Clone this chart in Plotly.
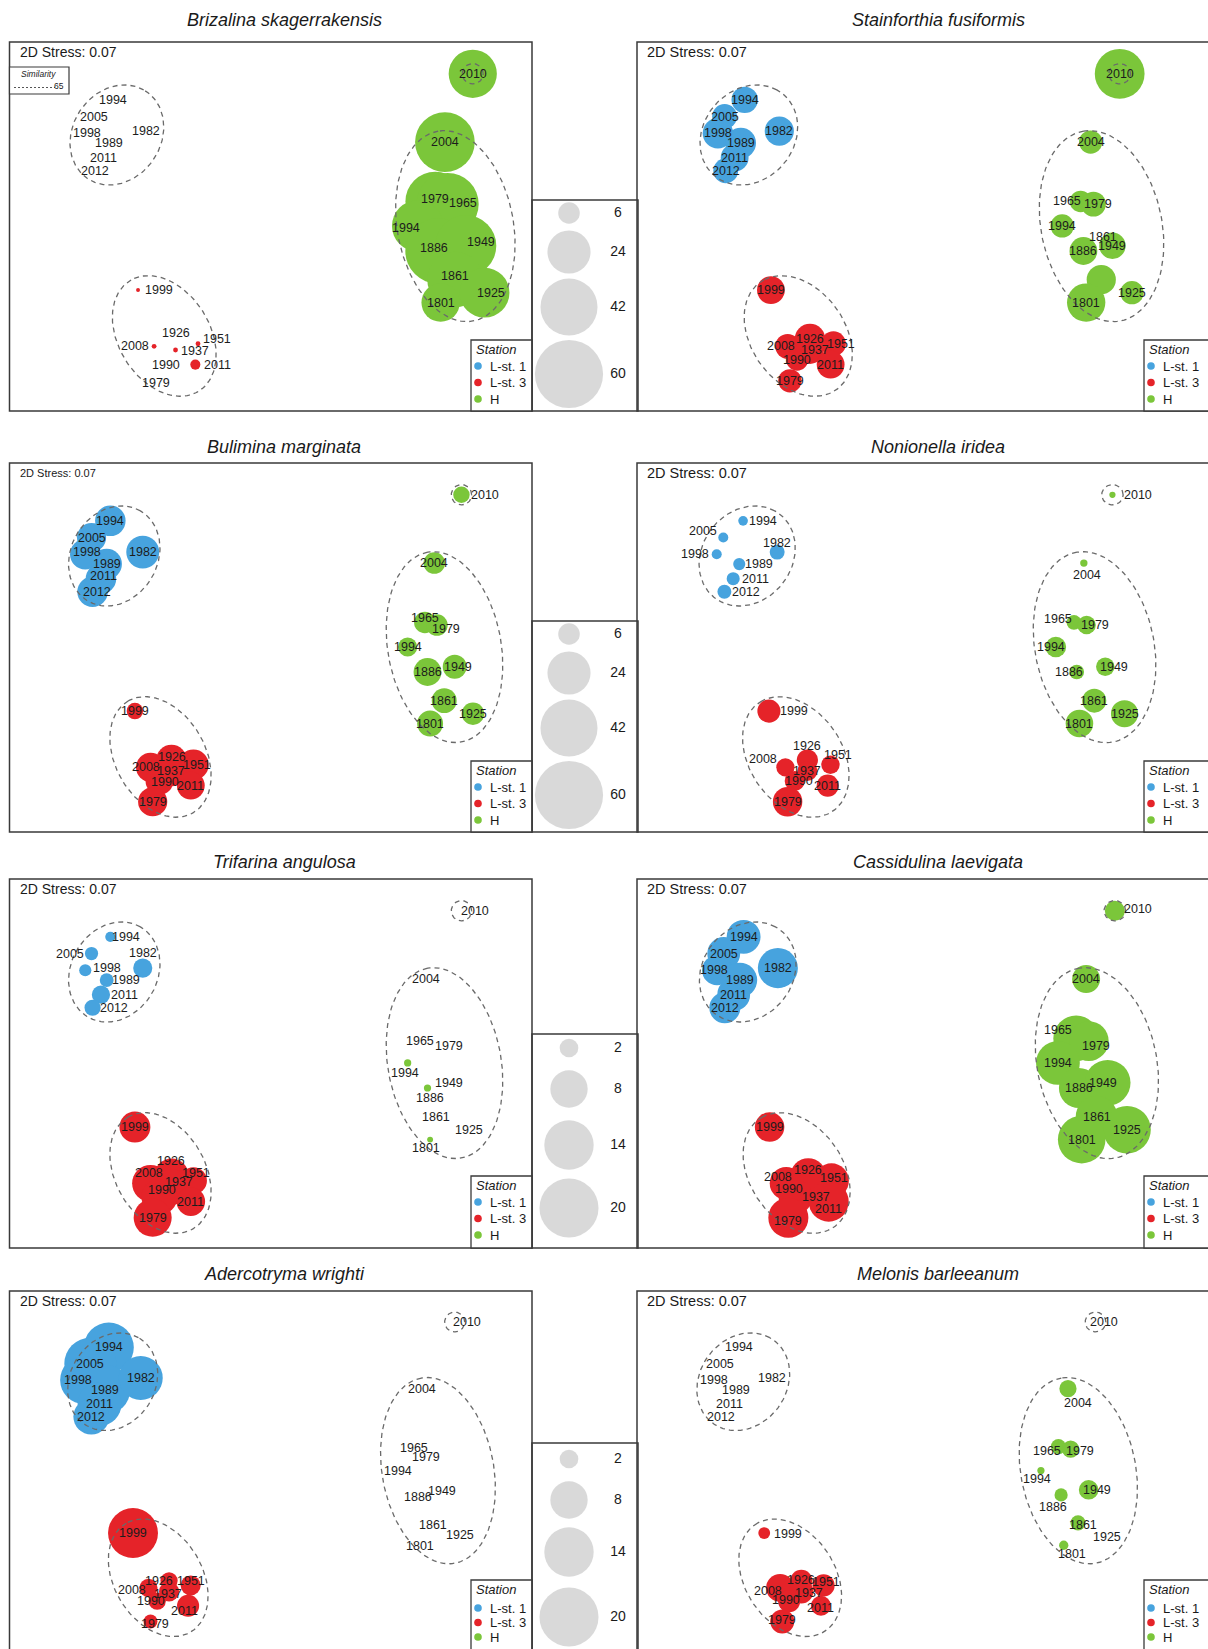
import math
import plotly.graph_objects as go

W, H = 1208, 1649
FONT = "Arial, 'Liberation Sans', Helvetica, sans-serif"

# ---------------- data ----------------
SPECIES = ["Brizalina skagerrakensis", "Stainforthia fusiformis", "Bulimina marginata",
           "Nonionella iridea", "Trifarina angulosa", "Cassidulina laevigata",
           "Adercotryma wrighti", "Melonis barleeanum"]
STATIONS = ["L-st. 1", "L-st. 3", "H"]

L1_YEARS = ["1994", "2005", "1998", "1989", "2011", "2012", "1982"]
L3_YEARS = ["1999", "2008", "1926", "1951", "1937", "1990", "2011", "1979"]
H_YEARS = ["2010", "2004", "1965", "1979", "1994", "1886", "1949", "1861", "1925", "1801"]

# shared nMDS ordination (arbitrary units)
L1_X = [19.3, 15.7, 14.5, 18.6, 17.5, 15.9, 25.5]
L1_Y = [59.7, 56.5, 53.3, 51.4, 48.6, 46.1, 53.7]
L3_X = [24.0, 27.0, 31.0, 35.2, 31.0, 28.7, 34.7, 27.4]
L3_Y = [23.2, 12.4, 13.8, 12.9, 11.7, 9.8, 8.9, 5.8]
H_X = [86.5, 81.3, 79.5, 81.8, 76.2, 80.0, 85.2, 83.2, 88.7, 80.5]
H_Y = [64.7, 51.6, 40.2, 39.7, 35.5, 30.7, 31.7, 25.2, 22.7, 20.8]

# abundances (bubble values)
BRIZ_L1 = [0, 0, 0, 0, 0, 0, 0]
BRIZ_L3 = [0.2, 0.3, 0, 0.3, 0.3, 0, 1.3, 0]
BRIZ_H = [30, 46, 46, 50, 34, 55, 48, 40, 32, 19]
STAIN_L1 = [9, 8, 12, 12, 10, 8, 11]
STAIN_L3 = [10, 8, 12, 8, 10, 6, 10, 7]
STAIN_H = [32, 7, 6, 8, 7, 10, 9, 11, 7, 19]
BULIM_L1 = [12, 11, 12, 12, 12, 12, 14]
BULIM_L3 = [3.5, 11, 12, 12, 12, 10, 10, 11]
BULIM_H = [3.5, 6, 6, 6, 4.7, 10, 7.4, 8, 6.5, 8.7]
NONION_L1 = [1.2, 1.3, 1.3, 1.9, 2.2, 2.5, 2.9]
NONION_L3 = [6.9, 4.3, 5.8, 4.4, 5.2, 5.2, 6.3, 11.2]
NONION_H = [0.5, 0.7, 2.8, 4.4, 5.5, 2.8, 4.4, 7.4, 9.5, 9.8]
TRIF_L1 = [0.6, 1.0, 0.85, 1.1, 1.9, 1.5, 2.1]
TRIF_L3 = [5.5, 7.8, 7.0, 4.2, 7.4, 7.4, 4.7, 8.3]
TRIF_H = [0, 0, 0, 0, 0.3, 0.3, 0, 0, 0, 0.2]
CASS_L1 = [6.6, 6.2, 5.2, 7.0, 6.2, 5.5, 9.2]
CASS_L3 = [5.0, 6.2, 7.4, 7.0, 7.4, 6.6, 9.2, 9.2]
CASS_H = [2.3, 4.5, 12, 9, 11, 9.2, 12, 10, 13, 13]
ADERC_L1 = [14.3, 15.5, 13.2, 14.3, 11.1, 7.4, 11.1]
ADERC_L3 = [14.3, 1.9, 1.7, 2.3, 2.3, 1.7, 2.8, 1.1]
ADERC_H = [0, 0, 0, 0, 0, 0, 0, 0, 0, 0]
MELON_L1 = [0, 0, 0, 0, 0, 0, 0]
MELON_L3 = [0.8, 4.5, 2.8, 2.8, 3.3, 2.8, 2.3, 3.3]
MELON_H = [0, 1.7, 1.3, 1.7, 0.3, 1.0, 2.2, 1.3, 0, 0.5]

SIZE_KEY_A = [6, 24, 42, 60]
SIZE_KEY_B = [2, 8, 14, 20]
STRESS_TEXT = "2D Stress: 0.07"
SIMILARITY_LEVEL = "65"

# ---------------- styling / layout constants ----------------
COLORS = ["#47a3de", "#e52329", "#7bc63a"]
KEY_GREY = "#c9c9c9"
FRAME_COLOR = "#3a3a3a"
CONTOUR_COLOR = "#6a6a6a"
LABEL_COLOR = "#1c1c1c"

# similarity contours: (cx, cy, a, b, angle)
CONTOURS = [(20.05, 52.96, 10.0, 8.3, 60), (28.9, 14.4, 12.4, 8.6, 120),
            (83.25, 35.47, 18.5, 10.85, 100), (86.5, 64.7, 1.95, 1.95, 0)]

ROW_TOP = [42, 463, 879, 1291]
FRAME_H = 369
ROW_PLOT_H = [369, 369, 369, 360]
Y_SPAN = 70.8
COL_AXIS_X = [(9.5, 532), (637, 1195)]
COL_FRAME_X = [(9.5, 532), (637, 1218)]
TITLE_Y = [20, 447, 862, 1274]
TITLE_X = [284, 938]
SIZEREF = [0.02583, 0.02583, 0.01148, 0.01148]
KEY_TOP = [200, 621, 1034, 1443]
KEY_OFFS = [[13, 52, 107, 174], [13, 52, 107, 174], [14, 55, 111, 174], [16, 57, 109, 174]]
# station key: (box offset from frame top, first item offset, item spacing)
STATION_BOX = [(298, 26, 16.5), (298, 26, 16.5), (297, 26, 16.5), (289, 28, 14.5)]

BRIZ_SHIFT = {"R1999": (21, 0), "R2008": (-19, 0), "R1926": (0, -6), "R1951": (19, -5), "R1937": (19, 1),
              "R2011": (22, 0), "R1990": (3, 5), "R1979": (0, 2), "G1979": (-13, -5), "G1965": (28, 2),
              "G1994": (-12, 2), "G1949": (15, -4), "G1925": (6, 0), "G1861": (0, -4), "G1886": (-4, -3)}
STAIN_SHIFT = {"G1861": (2, -43), "G1965": (-14, 0), "G1979": (5, 0), "R2008": (-7, 0), "R1951": (8, 0),
               "R1937": (5, 0)}
BULIM_SHIFT = {"G2010": (24, 0), "R2008": (-5, 0), "R1926": (1, -3), "R1951": (4, 0), "R1990": (6, 1),
               "G1965": (0, -4), "G1979": (9, 4), "G1949": (3, 0), "B1998": (2, -2), "B2011": (3, -3),
               "B2012": (4, 0)}
NONION_SHIFT = {"B1994": (20, 0), "B2005": (-20, -7), "B1998": (-22, 0), "B1982": (0, -9), "B1989": (20, 0),
                "B2011": (22, 0), "B2012": (22, 0), "R1999": (25, 0), "R2008": (-22, -8), "R1926": (0, -14),
                "R1951": (8, -10), "R1990": (4, 0), "G2010": (26, 0), "G2004": (3, 12), "G1965": (-16, -3),
                "G1979": (8, 0), "G1994": (-5, 0), "G1886": (-8, 0), "G1949": (9, 0)}
TRIF_SHIFT = {"B1994": (16, 0), "B2005": (-22, 0), "B1998": (22, -2), "B1982": (0, -15), "B1989": (19, 0),
              "B2011": (24, 0), "B2012": (21, 0), "R2008": (-2, -10), "R1926": (0, -15), "R1951": (3, -8),
              "R1937": (8, -5), "R1990": (3, -7), "G2010": (14, 0), "G2004": (-8, 0), "G1965": (-5, 3),
              "G1979": (12, 5), "G1994": (-3, 10), "G1886": (2, 10), "G1949": (-6, 0), "G1861": (-8, 0),
              "G1925": (-4, 0), "G1801": (-4, 8)}
CASS_SHIFT = {"R2008": (-8, -6), "R1926": (0, -6), "R1951": (3, -3), "R1990": (-7, -8), "R1937": (8, 10),
              "R2011": (0, 7), "R1979": (0, 3), "G2010": (23, -2), "G1965": (-18, -8), "G1979": (7, 5),
              "G1949": (-5, 0), "B1998": (-3, 0)}
ADERC_SHIFT = {"R2008": (-16, 2), "R1926": (-10, 0), "R1951": (0, -4), "R1937": (-1, 2), "R1990": (-6, 0),
               "R2011": (-4, 5), "R1979": (4, 2), "G2010": (12, 0), "G2004": (-6, 0), "G1965": (-5, 1),
               "G1979": (-4, 8), "G1994": (-4, 1), "G1886": (-3, 2), "G1949": (-6, 1), "G1861": (-5, 2),
               "G1925": (-6, -1), "G1801": (-4, 1), "B1998": (-6, 0)}
MELON_SHIFT = {"R1999": (24, 1), "R2008": (-12, 3), "R1926": (0, -1), "R1951": (2, -3), "R1937": (8, 1),
               "R1990": (-3, -1), "R2011": (0, 2), "R1979": (0, -2), "G2010": (8, 0), "G2004": (10, 14),
               "G1965": (-11, 4), "G1979": (9, 2), "G1994": (-4, 9), "G1886": (-8, 12), "G1949": (8, 0),
               "G1861": (5, 2), "G1925": (0, 1), "G1801": (8, 9)}

# (title, L1, L3, H, row, col, stress font size, x stretch, label shifts)
PANELS = [
    (SPECIES[0], BRIZ_L1, BRIZ_L3, BRIZ_H, 0, 0, 14, 1.025, BRIZ_SHIFT),
    (SPECIES[1], STAIN_L1, STAIN_L3, STAIN_H, 0, 1, 14.5, 1.0, STAIN_SHIFT),
    (SPECIES[2], BULIM_L1, BULIM_L3, BULIM_H, 1, 0, 11, 1.0, BULIM_SHIFT),
    (SPECIES[3], NONION_L1, NONION_L3, NONION_H, 1, 1, 14.5, 0.985, NONION_SHIFT),
    (SPECIES[4], TRIF_L1, TRIF_L3, TRIF_H, 2, 0, 14, 1.0, TRIF_SHIFT),
    (SPECIES[5], CASS_L1, CASS_L3, CASS_H, 2, 1, 14.5, 0.99, CASS_SHIFT),
    (SPECIES[6], ADERC_L1, ADERC_L3, ADERC_H, 3, 0, 14, 0.985, ADERC_SHIFT),
    (SPECIES[7], MELON_L1, MELON_L3, MELON_H, 3, 1, 14.5, 0.95, MELON_SHIFT),
]


def PX(px):
    return px / W


def PY(py):
    return 1 - py / H


fig = go.Figure()
layout_axes = {}
annotations = []
shapes = []

groups = [(L1_YEARS, L1_X, L1_Y, "B"), (L3_YEARS, L3_X, L3_Y, "R"), (H_YEARS, H_X, H_Y, "G")]

for idx, (title, v1, v3, vh, row, col, stress_fs, stretch, shifts) in enumerate(PANELS):
    n = idx + 1
    sid = "" if n == 1 else str(n)
    xr, yr = "x" + sid, "y" + sid
    top = ROW_TOP[row]
    bot = min(top + FRAME_H, H)
    ax0, ax1 = COL_AXIS_X[col]
    yr0 = Y_SPAN - (bot - top) / ROW_PLOT_H[row] * Y_SPAN
    layout_axes["xaxis" + sid] = dict(domain=[PX(ax0), PX(ax1)], range=[0, 100 / stretch], visible=False,
                                      anchor=yr, fixedrange=True)
    layout_axes["yaxis" + sid] = dict(domain=[PY(bot), PY(top)], range=[yr0, Y_SPAN], visible=False,
                                      anchor=xr, fixedrange=True)

    for s, vals in enumerate([v1, v3, vh]):
        years, gx, gy, code = groups[s]
        fig.add_trace(go.Scatter(
            x=gx, y=gy, mode="markers", xaxis=xr, yaxis=yr, showlegend=False, hoverinfo="skip",
            marker=dict(size=vals, sizemode="area", sizeref=SIZEREF[row], sizemin=0,
                        color=COLORS[s], opacity=1, line=dict(width=0))))

    for (cx, cy, a, b, ang) in CONTOURS:
        ca, sa = math.cos(math.radians(ang)), math.sin(math.radians(ang))
        ts = [2 * math.pi * k / 160 for k in range(161)]
        ex = [cx + a * math.cos(t) * ca - b * math.sin(t) * sa for t in ts]
        ey = [cy + a * math.cos(t) * sa + b * math.sin(t) * ca for t in ts]
        fig.add_trace(go.Scatter(x=ex, y=ey, mode="lines", xaxis=xr, yaxis=yr, showlegend=False,
                                 hoverinfo="skip",
                                 line=dict(color=CONTOUR_COLOR, width=1.3, dash="5px,4px")))

    for years, gx, gy, code in groups:
        for yv, xv, yy in zip(years, gx, gy):
            dx, dy = shifts.get(code + yv, (0, 0))
            annotations.append(dict(text=yv, x=xv, y=yy, xref=xr, yref=yr, showarrow=False,
                                    xshift=dx, yshift=-dy, font=dict(size=12.5, color=LABEL_COLOR),
                                    borderpad=0))

    # frame
    fx0, fx1 = COL_FRAME_X[col]
    shapes.append(dict(type="rect", xref="paper", yref="paper", x0=PX(fx0), x1=PX(fx1),
                       y0=PY(top + FRAME_H), y1=PY(top), line=dict(color=FRAME_COLOR, width=1.5),
                       fillcolor="rgba(0,0,0,0)", layer="above"))
    # title
    annotations.append(dict(text="<i>%s</i>" % title, x=PX(TITLE_X[col]), y=PY(TITLE_Y[row]),
                            xref="paper", yref="paper", showarrow=False, xanchor="center",
                            yanchor="middle", font=dict(size=18, color="#1a1a1a")))
    # stress
    annotations.append(dict(text=STRESS_TEXT, x=PX(fx0 + 8), y=PY(top + 10), xref="paper", yref="paper",
                            showarrow=False, xanchor="left", yanchor="middle",
                            font=dict(size=stress_fs, color="#1a1a1a")))
    # station key
    if col == 0:
        bx0, bx1 = 471, 532
    else:
        bx0, bx1 = 1144, 1218
    boff, first, step = STATION_BOX[row]
    btop = top + boff
    shapes.append(dict(type="rect", xref="paper", yref="paper", x0=PX(bx0), x1=PX(bx1),
                       y0=PY(top + FRAME_H), y1=PY(btop), line=dict(color=FRAME_COLOR, width=1.3),
                       fillcolor="white", layer="above"))
    annotations.append(dict(text="<i>Station</i>", x=PX(bx0 + 3), y=PY(btop + 9.5), xref="paper",
                            yref="paper", showarrow=False, xanchor="left", yanchor="middle",
                            font=dict(size=13, color="#1a1a1a")))
    for k, (nm, colr) in enumerate(zip(STATIONS, COLORS)):
        cy = btop + first + k * step
        cx = bx0 + 7
        shapes.append(dict(type="circle", xref="paper", yref="paper", x0=PX(cx - 3.8), x1=PX(cx + 3.8),
                           y0=PY(cy + 3.8), y1=PY(cy - 3.8), fillcolor=colr, line=dict(width=0),
                           layer="above"))
        annotations.append(dict(text=nm, x=PX(bx0 + 17), y=PY(cy), xref="paper", yref="paper",
                                showarrow=False, xanchor="left", yanchor="middle",
                                font=dict(size=13, color="#1a1a1a")))

# similarity key (first panel only)
shapes.append(dict(type="rect", xref="paper", yref="paper", x0=PX(9.5), x1=PX(69), y0=PY(94), y1=PY(67),
                   line=dict(color=FRAME_COLOR, width=1.2), fillcolor="white", layer="above"))
annotations.append(dict(text="<i>Similarity</i>", x=PX(38), y=PY(74), xref="paper", yref="paper",
                        showarrow=False, xanchor="center", yanchor="middle", font=dict(size=8.5, color="#222")))
shapes.append(dict(type="line", xref="paper", yref="paper", x0=PX(14), x1=PX(55), y0=PY(87.5), y1=PY(87.5),
                   line=dict(color="#555", width=1, dash="2px,2px"), layer="above"))
annotations.append(dict(text=SIMILARITY_LEVEL, x=PX(66), y=PY(86), xref="paper", yref="paper",
                        showarrow=False, xanchor="right", yanchor="middle", font=dict(size=8.5, color="#222")))

# bubble size keys (one per row)
for row in range(4):
    n = 9 + row
    sid = str(n)
    top = KEY_TOP[row]
    bot = min(ROW_TOP[row] + FRAME_H, H)
    keyvals = SIZE_KEY_A if row < 2 else SIZE_KEY_B
    layout_axes["xaxis" + sid] = dict(domain=[PX(532), PX(638)], range=[0, 106], visible=False,
                                      anchor="y" + sid, fixedrange=True)
    layout_axes["yaxis" + sid] = dict(domain=[PY(bot), PY(top)], range=[bot - top, 0], visible=False,
                                      anchor="x" + sid, fixedrange=True)
    fig.add_trace(go.Scatter(x=[37] * 4, y=KEY_OFFS[row], mode="markers", xaxis="x" + sid, yaxis="y" + sid,
                             showlegend=False, hoverinfo="skip", cliponaxis=False,
                             marker=dict(size=keyvals, sizemode="area", sizeref=SIZEREF[row],
                                         color=KEY_GREY, line=dict(width=0))))
    fig.add_trace(go.Scatter(x=[86] * 4, y=KEY_OFFS[row], mode="text", text=[str(v) for v in keyvals],
                             xaxis="x" + sid, yaxis="y" + sid, showlegend=False, hoverinfo="skip",
                             cliponaxis=False, textfont=dict(size=14, color="#1a1a1a")))
    shapes.append(dict(type="rect", xref="paper", yref="paper", x0=PX(532), x1=PX(638),
                       y0=PY(ROW_TOP[row] + FRAME_H), y1=PY(top), line=dict(color=FRAME_COLOR, width=1.5),
                       fillcolor="rgba(0,0,0,0)", layer="above"))

fig.update_layout(
    width=W, height=H, margin=dict(l=0, r=0, t=0, b=0),
    paper_bgcolor="white", plot_bgcolor="white",
    font=dict(family=FONT, color="#1a1a1a"),
    showlegend=False, annotations=annotations, shapes=shapes, **layout_axes)

fig.write_html("out.html", config={"displayModeBar": False, "staticPlot": True},
               post_script="document.body.style.margin='0';document.body.style.padding='0';"
                           "document.body.style.overflow='hidden';"
                           "document.documentElement.style.overflow='hidden';")
